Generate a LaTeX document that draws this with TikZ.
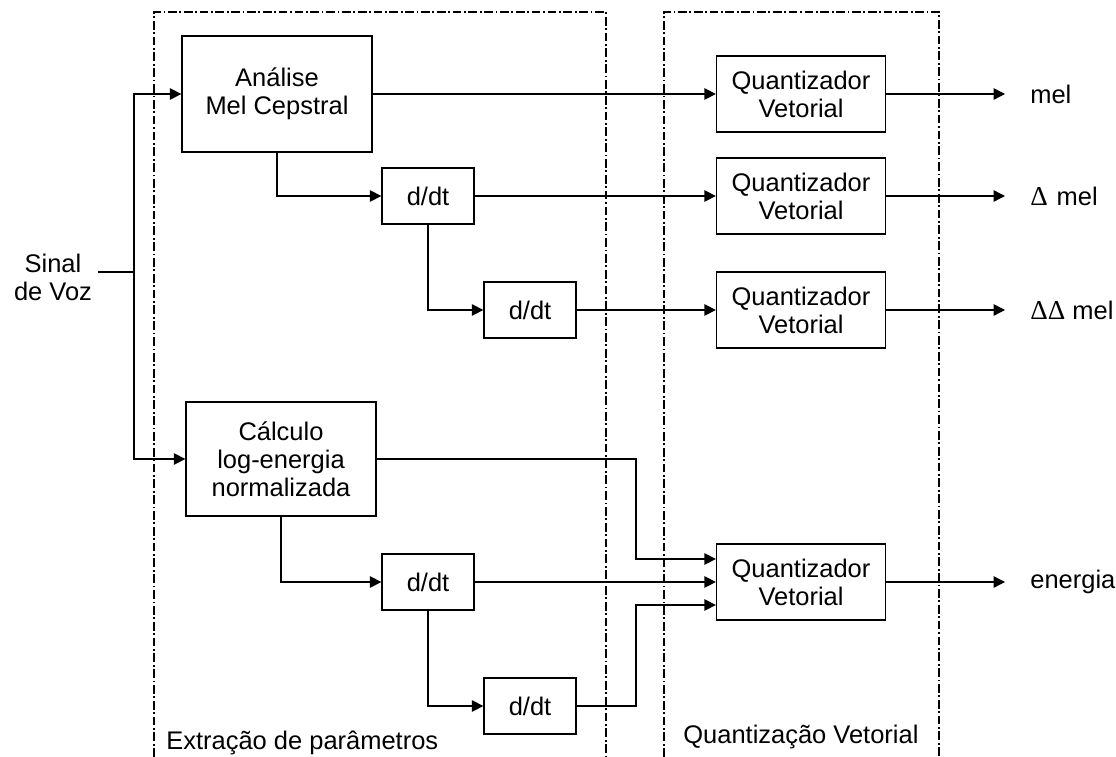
\documentclass[tikz,border=0pt]{standalone}
\usepackage{fontspec}
\setmainfont{Liberation Sans}
\newfontfamily\deltafont{Liberation Serif}
\newcommand{\dlt}{{\deltafont\fontsize{15.5}{15.5}\selectfont Δ}}
\usetikzlibrary{arrows.meta, positioning, calc}

\begin{document}
\begin{tikzpicture}[x=0.02cm, y=-0.02cm,
    every node/.style={font=\fontsize{14.5}{16}\selectfont, align=center},
    blk/.style={draw, line width=0.75pt, inner sep=0pt},
    derbox/.style={blk, minimum width=1.84cm, minimum height=1.12cm},
    qvbox/.style={blk, minimum width=3.38cm, minimum height=1.52cm},
    lbl/.style={inner sep=0pt, anchor=west},
    fio/.style={line width=0.75pt},
    arr/.style={line width=0.75pt, -{Triangle[length=6.5pt, width=6.5pt]}},
    regiao/.style={line width=0.6pt, dash pattern=on 5pt off 1.5pt on 1pt off 1.5pt}]
  \useasboundingbox (0,0) rectangle (1116,757);
  % Regions
  \draw[regiao] (154,757) -- (154,12) -- (606,12) -- (606,757);
  \draw[regiao] (664,757) -- (664,12) -- (939,12) -- (939,757);
  \node[lbl] (extr) at (166,743) {Extração de parâmetros};
  \node[lbl] (quant) at (683,737) {Quantização Vetorial};
  % Input
  \node[inner sep=3pt] (sinal) at (53,277) {Sinal\\de Voz};
  \coordinate (bus) at (134,272);
  % Mel branch
  \node[blk, minimum width=3.8cm, minimum height=2.32cm] (ana) at (277,94) {Análise\\Mel Cepstral};
  \node[derbox] (d1) at (428,196) {d/dt};
  \node[derbox] (d2) at (530,310) {d/dt};
  % Energy branch
  \node[blk, minimum width=3.8cm, minimum height=2.28cm] (calc) at (281,459) {Cálculo\\log-energia\\normalizada};
  \node[derbox] (d3) at (428,582) {d/dt};
  \node[derbox] (d4) at (530,706) {d/dt};
  \coordinate (mx) at (636,582);
  % Quantizers
  \node[qvbox] (q1) at (801,94) {Quantizador\\Vetorial};
  \node[qvbox] (q2) at (801,196) {Quantizador\\Vetorial};
  \node[qvbox] (q3) at (801,310) {Quantizador\\Vetorial};
  \node[qvbox] (q4) at (801,582) {Quantizador\\Vetorial};
  % Outputs
  \node[lbl] (omel) at (1030,94) {mel};
  \node[lbl] (odmel) at (1030,196) {\dlt\hspace{5pt}mel};
  \node[lbl] (oddmel) at (1030,310) {\dlt\dlt\hspace{4pt}mel};
  \node[lbl] (oen) at (1030,582) {energia};
  % Connections
  \draw[fio] (sinal.east |- bus) -- (bus);
  \draw[arr] (bus) |- (ana);
  \draw[arr] (bus) |- (calc.west);
  \draw[arr] (ana) |- (d1);
  \draw[arr] (d1) |- (d2);
  \draw[arr] (calc) |- (d3);
  \draw[arr] (d3) |- (d4);
  \draw[arr] (ana) -- (q1);
  \draw[arr] (d1) -- (q2);
  \draw[arr] (d2) -- (q3);
  \draw[arr] (calc.east) -- (calc.east -| mx) |- ([yshift=0.46cm]q4.west);
  \draw[arr] (d3) -- (q4);
  \draw[arr] (d4.east) -- (d4.east -| mx) |- ([yshift=-0.46cm]q4.west);
  \draw[arr] (q1) -- ([xshift=-0.5cm]omel.west);
  \draw[arr] (q2) -- ([xshift=-0.5cm]odmel.west);
  \draw[arr] (q3) -- ([xshift=-0.5cm]oddmel.west);
  \draw[arr] (q4) -- ([xshift=-0.5cm]oen.west);
\end{tikzpicture}
\end{document}
